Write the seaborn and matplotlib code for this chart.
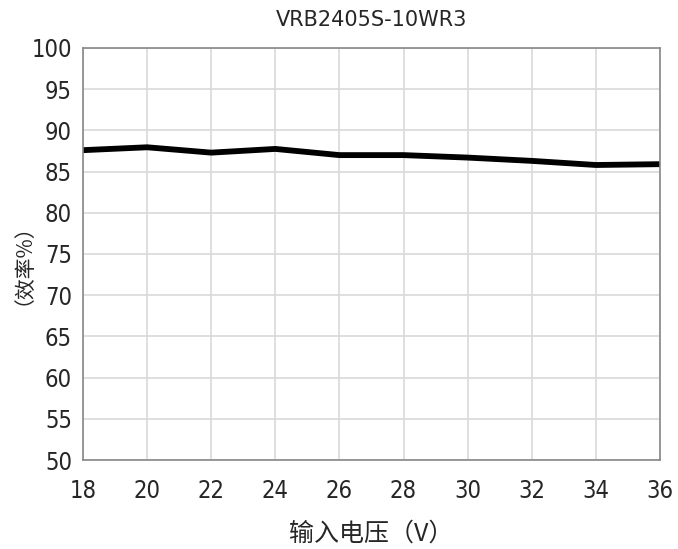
import matplotlib
matplotlib.use("Agg")
import matplotlib.pyplot as plt
import seaborn as sns
import pandas as pd

# data
voltage = [18, 20, 22, 24, 26, 28, 30, 32, 34, 36]
efficiency = [87.6, 87.95, 87.3, 87.75, 87.0, 87.0, 86.7, 86.3, 85.8, 85.9]
x_ticks = list(range(18, 37, 2))
y_ticks = list(range(50, 101, 5))

df = pd.DataFrame({"voltage": voltage, "efficiency": efficiency})

sns.set_style("white")
plt.rcParams['font.family'] = ['DejaVu Sans', 'Noto Sans CJK SC']
plt.rcParams['font.stretch'] = 'condensed'

fig = plt.figure(figsize=(6.78, 5.49), dpi=100)
ax = fig.add_axes([0.1224, 0.1621, 0.851, 0.7505])

sns.lineplot(data=df, x="voltage", y="efficiency", color="black", linewidth=4.2, ax=ax)

ax.set_xlim(18, 36)
ax.set_ylim(50, 100)
ax.set_xticks(x_ticks)
ax.set_yticks(y_ticks)
ax.grid(True, color="#d9d9d9", linewidth=1.2)
ax.tick_params(axis="both", direction="in", length=5, color="#555555", labelsize=17, pad=8)
ax.tick_params(axis="x", pad=14)
for s in ax.spines.values():
    s.set_color("#888888")
    s.set_linewidth(1.2)

ax.set_title("VRB2405S-10WR3", fontsize=15, fontstretch='normal', pad=16)
ax.set_xlabel("输入电压（V）", fontsize=18, family=['Noto Sans CJK SC', 'DejaVu Sans'], labelpad=12)
ax.set_ylabel("（效率%）", fontsize=15, family=['Noto Sans CJK SC', 'DejaVu Sans'], labelpad=6)

fig.savefig("out.png", dpi=100)
